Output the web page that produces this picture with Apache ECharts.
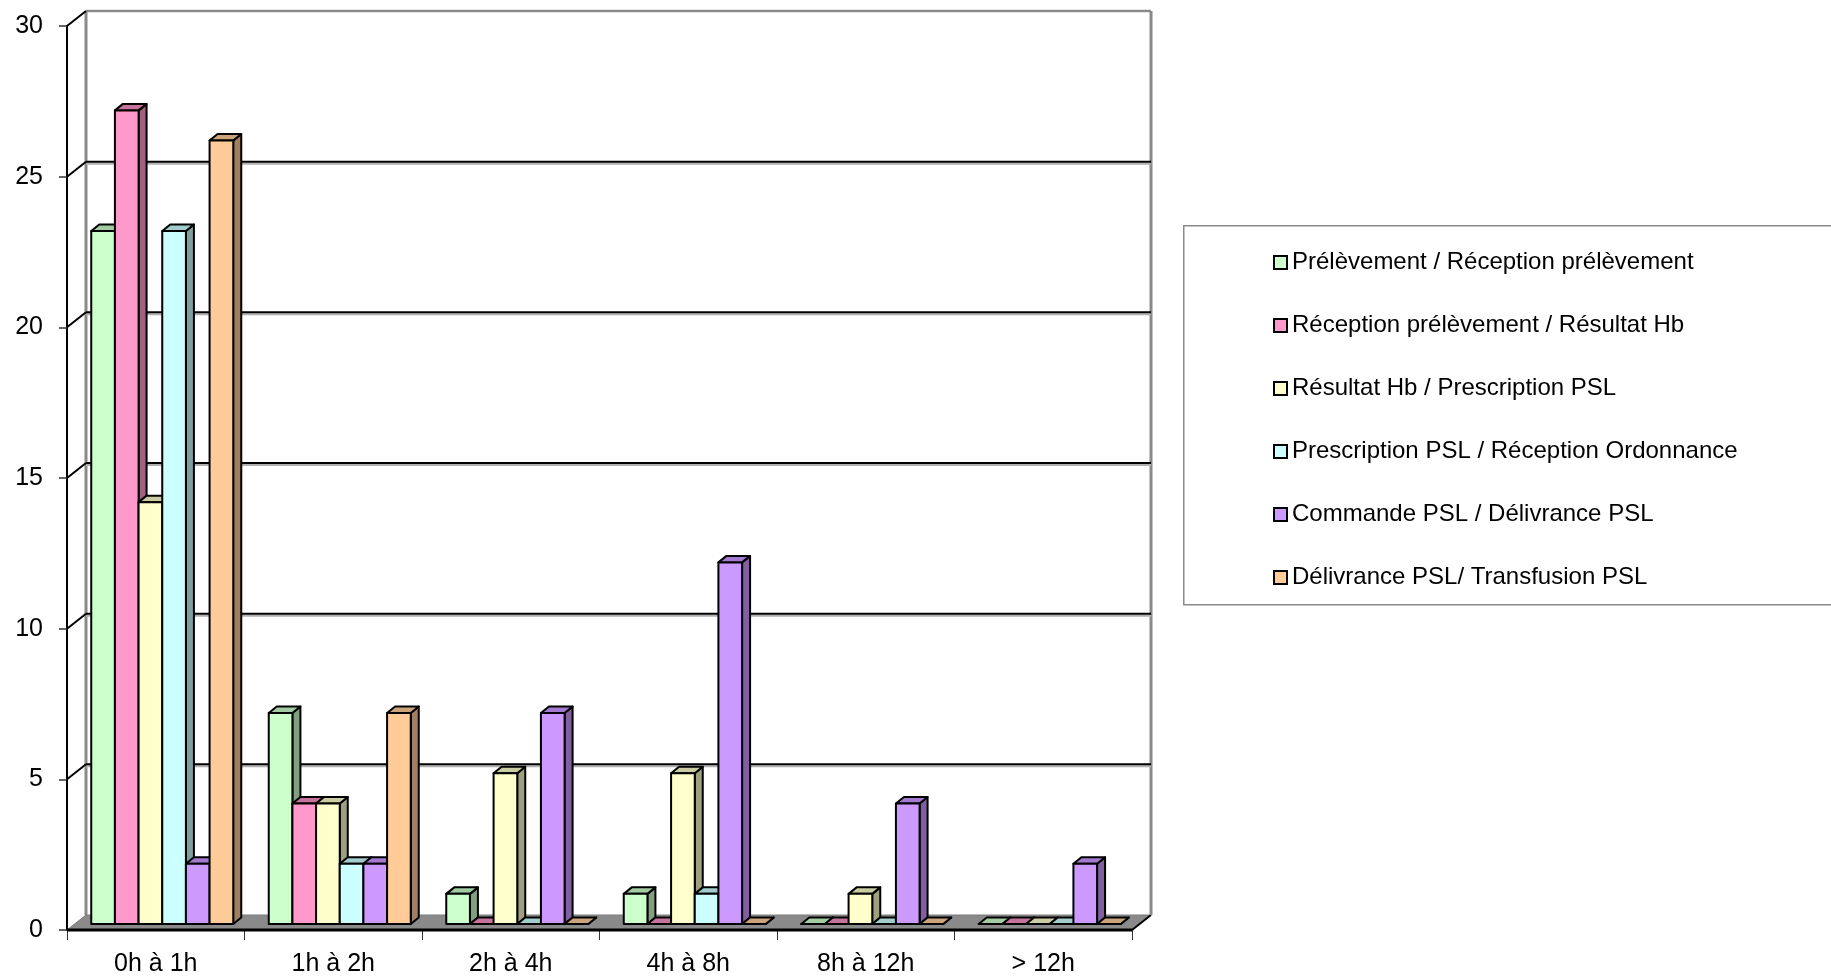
<!DOCTYPE html>
<html>
<head>
<meta charset="utf-8">
<title>Délais transfusionnels</title>
<script src="https://cdn.jsdelivr.net/npm/echarts@6/dist/echarts.min.js"></script>
<style>
  html, body { margin: 0; padding: 0; background: #fff; }
  #chart { width: 1831px; height: 977px; }
</style>
</head>
<body>
<div id="chart"></div>
<script>
// Time intervals (x categories)
const categories = ['0h à 1h', '1h à 2h', '2h à 4h', '4h à 8h', '8h à 12h', '> 12h'];

// Step names, in series order
const stepNames = [
  'Prélèvement / Réception prélèvement',
  'Réception prélèvement / Résultat Hb',
  'Résultat Hb / Prescription PSL',
  'Prescription PSL / Réception Ordonnance',
  'Commande PSL / Délivrance PSL',
  'Délivrance PSL/ Transfusion PSL'
];

// Counts per interval for each step
const prelevementReception   = [23, 7, 1, 1, 0, 0];
const receptionResultat      = [27, 4, 0, 0, 0, 0];
const resultatPrescription   = [14, 4, 5, 5, 1, 0];
const prescriptionOrdonnance = [23, 2, 0, 1, 0, 0];
const commandeDelivrance     = [2, 2, 7, 12, 4, 2];
const delivranceTransfusion  = [26, 7, 0, 0, 0, 0];

// Value axis ticks
const yTicks = [0, 5, 10, 15, 20, 25, 30];

const stepValues = [
  prelevementReception, receptionResultat, resultatPrescription,
  prescriptionOrdonnance, commandeDelivrance, delivranceTransfusion
];

// Face colours: front, top, side
const palette = [
  ['#CCFFCC', '#A3CCA3', '#80A080'],
  ['#FF99CC', '#C5739C', '#A06080'],
  ['#FFFFCC', '#CCCCA3', '#A0A080'],
  ['#CCFFFF', '#A3CCCC', '#80A0A0'],
  ['#CC99FF', '#A37AD0', '#8060A0'],
  ['#FFCC99', '#CCA37A', '#A08060']
];

const WALL = [19, -15];        // depth of the back wall
const BAR_SHIFT = [6.5, -6];   // columns sit inside the depth of the floor
const BAR_DEPTH = [8, -6.5];   // depth of each column
const FONT = '"Liberation Sans", Arial, sans-serif';

function frameRenderer(params, api) {
  const v = api.value(1);
  const band = api.size([1, 0])[0];
  const p0 = api.coord([0, v]);
  const pN = api.coord([categories.length - 1, v]);
  const left = p0[0] - band / 2;
  const right = pN[0] + band / 2;
  const y = p0[1];
  const children = [];
  const maxV = yTicks[yTicks.length - 1];

  if (v === 0) {
    const yTop = api.coord([0, maxV])[1];
    // floor
    children.push({
      type: 'polygon',
      shape: { points: [[left, y], [right, y], [right + WALL[0], y + WALL[1]], [left + WALL[0], y + WALL[1]]] },
      style: { fill: '#8A8A8A', stroke: '#7A7A7A', lineWidth: 1 }
    });
    children.push({
      type: 'line',
      shape: { x1: left, y1: y, x2: right, y2: y },
      style: { stroke: '#000', lineWidth: 3 }
    });
    children.push({
      type: 'line',
      shape: { x1: right, y1: y, x2: right + WALL[0], y2: y + WALL[1] },
      style: { stroke: '#000', lineWidth: 2 }
    });
    // back wall edges
    children.push({
      type: 'line',
      shape: { x1: left + WALL[0], y1: yTop + WALL[1], x2: left + WALL[0], y2: y + WALL[1] },
      style: { stroke: '#8A8A8A', lineWidth: 3 }
    });
    children.push({
      type: 'line',
      shape: { x1: right + WALL[0], y1: yTop + WALL[1], x2: right + WALL[0], y2: y + WALL[1] },
      style: { stroke: '#8A8A8A', lineWidth: 3 }
    });
  } else if (v === maxV) {
    children.push({
      type: 'line',
      shape: { x1: left + WALL[0], y1: y + WALL[1], x2: right + WALL[0], y2: y + WALL[1] },
      style: { stroke: '#8A8A8A', lineWidth: 2.5 }
    });
    children.push({
      type: 'line',
      shape: { x1: left, y1: y, x2: left + WALL[0], y2: y + WALL[1] },
      style: { stroke: '#000', lineWidth: 2 }
    });
  } else {
    // grid line across the back wall, with a grey shade below it
    children.push({
      type: 'line',
      shape: { x1: left + WALL[0], y1: y + WALL[1] + 2, x2: right + WALL[0], y2: y + WALL[1] + 2 },
      style: { stroke: '#B0B0B0', lineWidth: 2 }
    });
    children.push({
      type: 'line',
      shape: { x1: left + WALL[0], y1: y + WALL[1], x2: right + WALL[0], y2: y + WALL[1] },
      style: { stroke: '#000', lineWidth: 2 }
    });
    children.push({
      type: 'line',
      shape: { x1: left, y1: y, x2: left + WALL[0], y2: y + WALL[1] },
      style: { stroke: '#000', lineWidth: 2 }
    });
  }
  return { type: 'group', children: children };
}

function barRenderer(sIdx) {
  const cols = palette[sIdx];
  return function (params, api) {
    const cat = api.value(0);
    const val = api.value(1);
    const base = api.coord([cat, 0]);
    const top = api.coord([cat, val]);
    const band = api.size([1, 0])[0];
    const w = band * 0.8 / stepNames.length;
    const x0 = base[0] - band * 0.4 + sIdx * w + BAR_SHIFT[0];
    const x1 = x0 + w;
    const yb = base[1] + BAR_SHIFT[1];
    const yt = top[1] + BAR_SHIFT[1];
    const dx = BAR_DEPTH[0], dy = BAR_DEPTH[1];
    const line = { stroke: '#000', lineWidth: 2, lineJoin: 'round' };
    return {
      type: 'group',
      children: [
        {
          type: 'polygon',
          shape: { points: [[x1, yb], [x1 + dx, yb + dy], [x1 + dx, yt + dy], [x1, yt]] },
          style: Object.assign({ fill: cols[2] }, line)
        },
        {
          type: 'polygon',
          shape: { points: [[x0, yt], [x0 + dx, yt + dy], [x1 + dx, yt + dy], [x1, yt]] },
          style: Object.assign({ fill: cols[1] }, line)
        },
        {
          type: 'rect',
          shape: { x: x0, y: yt, width: w, height: yb - yt },
          style: Object.assign({ fill: cols[0] }, line)
        }
      ]
    };
  };
}

const chart = echarts.init(document.getElementById('chart'), null, { renderer: 'canvas' });

const series = [{
  type: 'custom',
  name: '__frame',
  renderItem: frameRenderer,
  clip: false,
  silent: true,
  z: 1,
  data: yTicks.map(v => [0, v])
}];

stepNames.forEach((name, i) => {
  series.push({
    type: 'custom',
    name: name,
    renderItem: barRenderer(i),
    clip: false,
    z: 2,
    itemStyle: { color: palette[i][0], borderColor: '#000', borderWidth: 2 },
    data: stepValues[i].map((v, c) => [c, v])
  });
});

chart.setOption({
  animation: false,
  backgroundColor: '#fff',
  textStyle: { fontFamily: FONT },
  grid: { left: 67, right: 699, top: 26, bottom: 47, containLabel: false },
  xAxis: {
    type: 'category',
    data: categories,
    boundaryGap: true,
    axisLine: { show: false },
    axisTick: { show: true, length: 10, lineStyle: { color: '#333', width: 1 } },
    axisLabel: { color: '#000', fontSize: 25, fontFamily: FONT, margin: 22 },
    splitLine: { show: false }
  },
  yAxis: {
    type: 'value',
    min: 0,
    max: 30,
    interval: 5,
    axisLine: { show: true, lineStyle: { color: '#000', width: 2 } },
    axisTick: { show: true, length: 8, lineStyle: { color: '#333', width: 1.5 } },
    axisLabel: { color: '#000', fontSize: 25, fontFamily: FONT, margin: 24 },
    splitLine: { show: false }
  },
  legend: {
    data: stepNames.map(n => ({ name: n, itemStyle: { borderColor: '#000', borderWidth: 2 } })),
    orient: 'vertical',
    left: 1268,
    top: 245,
    itemWidth: 13,
    itemHeight: 13,
    itemGap: 38,
    icon: 'rect',
    selectedMode: false,
    textStyle: { color: '#000', fontSize: 24, fontFamily: FONT, lineHeight: 25 }
  },
  graphic: [{
    type: 'rect',
    left: 1183,
    top: 225,
    shape: { width: 660, height: 379 },
    style: { fill: '#fff', stroke: '#8A8A8A', lineWidth: 1.5 },
    z: -10
  }],
  series: series
});
</script>
</body>
</html>
